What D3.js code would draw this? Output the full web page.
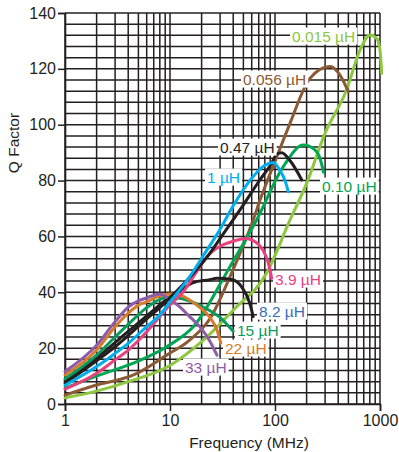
<!DOCTYPE html>
<html>
<head>
<meta charset="utf-8">
<script src="https://cdn.jsdelivr.net/npm/d3@7"></script>
<style>
  body { margin: 0; background: #fff; }
  svg { display: block; }
  text { font-family: "Liberation Sans", Arial, Helvetica, sans-serif; }
</style>
</head>
<body>
<svg id="chart" width="399" height="452"></svg>
<script>
// ---------- data ----------
const seriesNames = ["0.015 µH", "0.056 µH", "0.10 µH", "0.47 µH", "1 µH", "3.9 µH", "8.2 µH", "15 µH", "22 µH", "33 µH"];

const f_0015 = [1, 2, 4, 10, 20, 40, 83, 139, 200, 300, 480, 645, 803, 930, 1000, 1038];
const q_0015 = [2.2, 4.6, 8, 13.8, 22.3, 33.6, 46.8, 65.9, 79, 97, 112.4, 126.7, 132.1, 130.9, 126.7, 118.4];

const f_0056 = [1, 2, 4.5, 9.3, 15.5, 24, 37.3, 62, 72, 104, 139, 215, 334, 420, 500];
const q_0056 = [3.2, 6.8, 10.4, 17.5, 23, 30.5, 45.6, 65.9, 73, 88.5, 100.5, 116.6, 120.8, 117.5, 111.8];

const f_010 = [1, 2.15, 4.47, 9.3, 17, 37, 67, 120, 186, 240, 268, 290];
const q_010 = [5.7, 10.4, 14.6, 20.5, 28, 49, 66, 85, 92.7, 91, 88, 83];

const f_047 = [1, 2, 3, 4, 6, 8, 10, 24, 31, 46.4, 71.7, 93, 104, 116, 140, 180];
const q_047 = [7.4, 15.5, 20.5, 24.5, 30.5, 34.5, 38, 54, 60, 69.5, 80.2, 86.2, 89.5, 90, 87, 80.2];

const f_1 = [1, 2, 3, 4, 6, 8, 10, 15, 21.5, 29.9, 40, 57.6, 80, 96, 111, 124, 134];
const q_1 = [6.7, 13.4, 18.1, 21.7, 27.7, 31.9, 36.5, 45, 54, 62.5, 71, 80, 85.5, 86.5, 83.8, 80.2, 76];

const f_39 = [1, 2, 3, 4, 6, 8, 10, 13.4, 17, 20.8, 25, 30, 40, 52, 62, 70, 77, 86.5, 93];
const q_39 = [5.3, 11, 15.8, 19.3, 25.9, 31.3, 35.5, 40.2, 46, 51, 54.5, 56.5, 58.3, 59.3, 58.5, 57, 55, 50.4, 45];

const f_82 = [1, 2, 3, 4, 6, 8, 10, 11.5, 16.7, 24, 27.8, 38.6, 48, 57.6, 62];
const q_82 = [8.2, 16.5, 22, 26, 31.5, 35.5, 38.3, 39.6, 43.5, 44.5, 45, 44.6, 42, 36, 31.3];

const f_15 = [1, 2, 3, 4, 6, 8, 10, 15, 20, 25, 30, 35, 40];
const q_15 = [9, 17.5, 24, 28.5, 34.5, 37.5, 38.3, 37, 35, 33, 31, 28.5, 26];

const f_22 = [1, 2, 3, 4, 5, 6, 8, 10, 12, 15, 19.3, 24, 28, 30.5];
const q_22 = [10.4, 19.3, 27.7, 32.5, 35.4, 36.6, 38.7, 39.4, 39.2, 37.5, 34.5, 31, 26.5, 21.8];

const f_33 = [1, 2, 3, 4, 5, 6, 8, 10, 12.4, 14.8, 19.3, 24, 28];
const q_33 = [11.6, 21, 29.5, 34.7, 36.9, 38, 39.4, 37.2, 34.8, 31.9, 27.6, 22.5, 17.5];

const xTickValues = [1, 10, 100, 1000];
const yTickValues = [0, 20, 40, 60, 80, 100, 120, 140];

// ---------- styles / layout ----------
const lineColors  = ["#8dc63f", "#8b5a34", "#00a651", "#231f20", "#00aeef", "#e8417f", "#231f20", "#0a9b5c", "#d67b2c", "#8d5ba7"];
const labelColors = ["#8dc63f", "#8b5a34", "#00a651", "#231f20", "#00aeef", "#e8417f", "#3a6db5", "#0a9b5c", "#d67b2c", "#8d5ba7"];
const labelXY = [[292, 36], [243, 79], [322, 186], [220, 147], [207, 177], [275, 279], [259, 311], [237, 330], [225, 348], [185, 367]];

const freqs = [f_0015, f_0056, f_010, f_047, f_1, f_39, f_82, f_15, f_22, f_33];
const qs    = [q_0015, q_0056, q_010, q_047, q_1, q_39, q_82, q_15, q_22, q_33];

const margin = { left: 65, right: 19, top: 13, bottom: 48 };
const W = 399, H = 452;
const svg = d3.select("#chart");

const x = d3.scaleLog().domain([1, 1000]).range([margin.left, W - margin.right]);
const y = d3.scaleLinear().domain([0, 140]).range([H - margin.bottom, margin.top]);

// grid
const grid = svg.append("g").attr("stroke", "#231f20").attr("stroke-width", 1.5);
grid.selectAll("line.v").data(x.ticks()).join("line")
  .attr("x1", d => x(d)).attr("x2", d => x(d))
  .attr("y1", y(0)).attr("y2", y(140));
grid.selectAll("line.h").data(d3.range(0, 141, 4)).join("line")
  .attr("y1", d => y(d)).attr("y2", d => y(d))
  .attr("x1", x(1)).attr("x2", x(1000));

// axes
const yAxis = svg.append("g").attr("transform", `translate(${x(1)},0)`)
  .call(d3.axisLeft(y).tickValues(yTickValues).tickSize(7).tickPadding(2));
const xAxis = svg.append("g").attr("transform", `translate(0,${y(0)})`)
  .call(d3.axisBottom(x).tickValues(xTickValues).tickFormat(d3.format("d")).tickSize(7).tickPadding(4));
[yAxis, xAxis].forEach(a => {
  a.select(".domain").attr("stroke", "#231f20").attr("stroke-width", 1.6);
  a.selectAll(".tick line").attr("stroke", "#231f20").attr("stroke-width", 1.5);
  a.selectAll(".tick text").attr("font-size", 16).attr("fill", "#231f20")
    .attr("font-family", '"Liberation Sans", Arial, sans-serif');
});

// axis titles
svg.append("text").attr("x", 249).attr("y", 448).attr("text-anchor", "middle")
  .attr("font-size", 15.5).attr("fill", "#231f20").text("Frequency (MHz)");
svg.append("text").attr("transform", "translate(19,143) rotate(-90)").attr("text-anchor", "middle")
  .attr("font-size", 15.5).attr("fill", "#231f20").text("Q Factor");

// curves
const line = d3.line().x(d => x(d[0])).y(d => y(d[1])).curve(d3.curveMonotoneX);
const order = [0, 1, 2, 6, 7, 8, 9, 5, 3, 4];
order.forEach(i => {
  const pts = freqs[i].map((f, k) => [f, qs[i][k]]);
  svg.append("path").datum(pts).attr("d", line)
    .attr("fill", "none").attr("stroke", lineColors[i]).attr("stroke-width", 3)
    .attr("stroke-linecap", "round").attr("stroke-linejoin", "round");
});

// labels
seriesNames.forEach((name, i) => {
  const g = svg.append("g");
  const t = g.append("text").attr("x", labelXY[i][0]).attr("y", labelXY[i][1]).attr("dy", "0.36em")
    .attr("font-size", 15.5).attr("fill", labelColors[i]).text(name);
  const bb = t.node().getBBox();
  g.insert("rect", "text").attr("x", bb.x - 2).attr("y", bb.y).attr("width", bb.width + 4).attr("height", bb.height)
    .attr("fill", "#fff");
});
</script>
</body>
</html>
